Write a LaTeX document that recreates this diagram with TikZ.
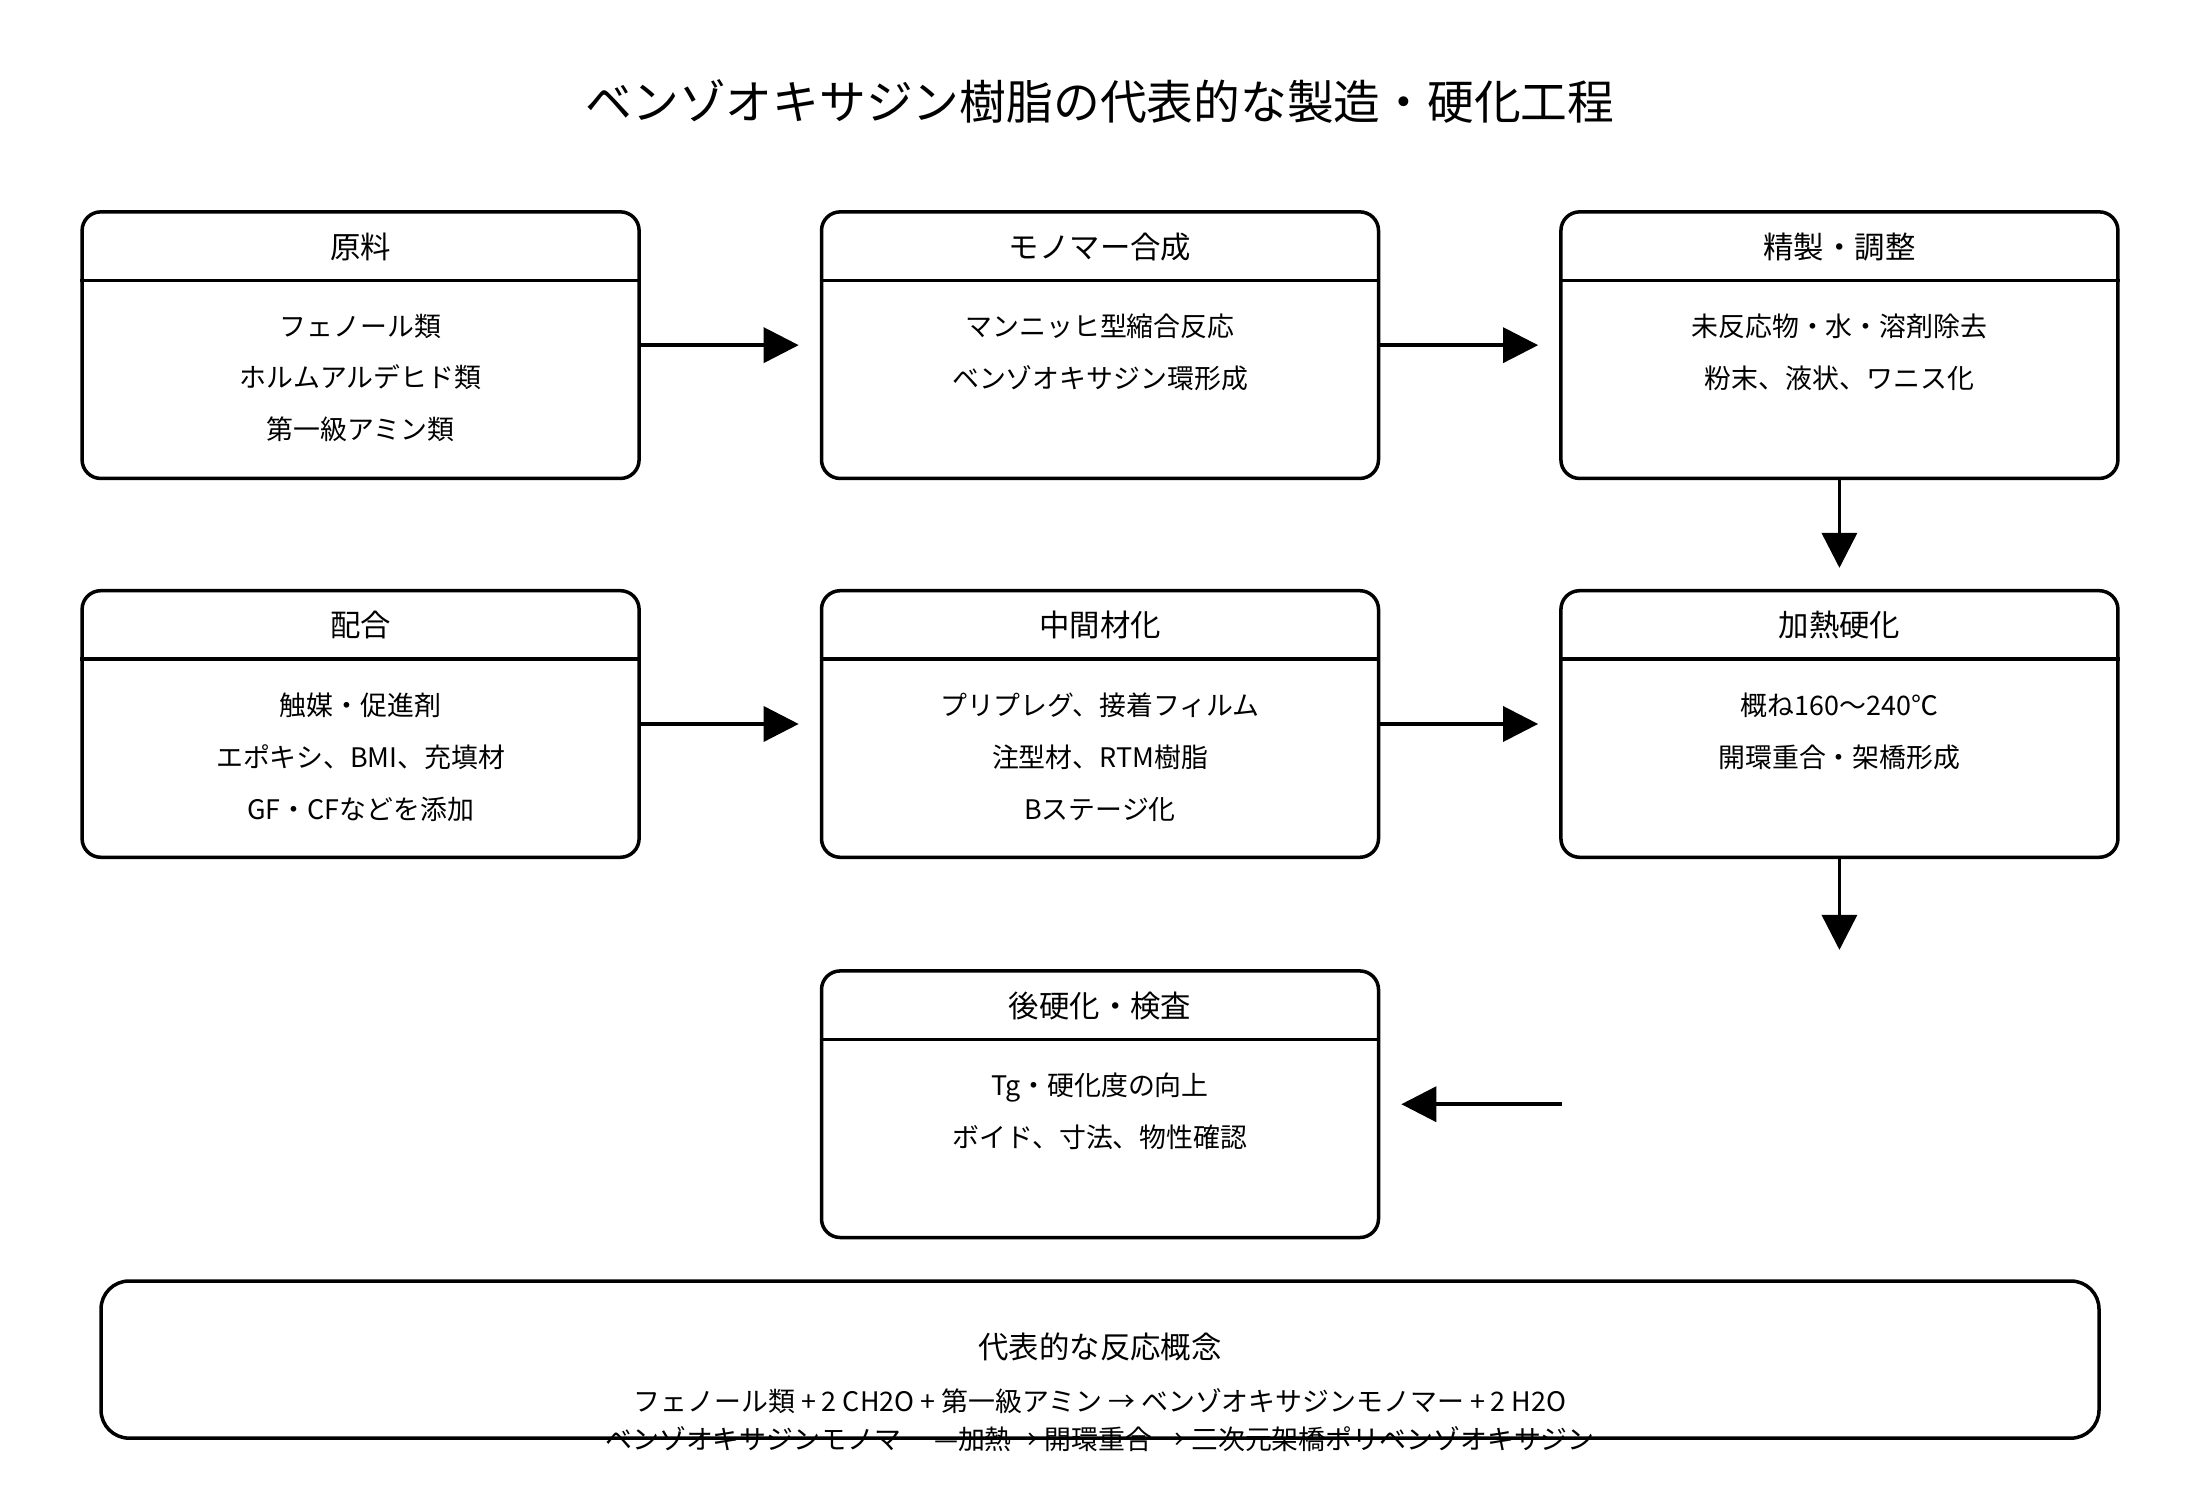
\documentclass[tikz,border=0pt]{standalone}
\usepackage{fontspec}
\setmainfont{Noto Sans CJK JP}
\usetikzlibrary{arrows.meta, positioning, calc}

\tikzset{
  stage/.style={draw, line width=1.5pt, rounded corners=8pt, minimum width=397*0.6pt, minimum height=190*0.6pt},
  head/.style={font=\fontsize{13}{15}\selectfont},
  body/.style={align=center, font=\fontsize{11.5}{22.2}\selectfont},
  flow/.style={line width=1.5pt, -{Triangle[length=15pt,width=15pt]}, shorten >=9pt},
}

\begin{document}
\begin{tikzpicture}[x=0.6pt, y=-0.6pt]
\useasboundingbox (0,0) rectangle (1568,1069);

% title
\node [font=\fontsize{20}{24}\selectfont] (title) at (784,72) {ベンゾオキサジン樹脂の代表的な製造・硬化工程};

% first row
\node [stage] (raw) at (257,246) {};
\node [stage] (mono) at (784,246) {};
\node [stage] (refine) at (1311,246) {};
% second row
\node [stage] (mix) at (257,516) {};
\node [stage] (inter) at (784,516) {};
\node [stage] (cure) at (1311,516) {};
% third row
\node [stage] (post) at (784,787) {};

% header lines
\foreach \n in {raw, mono, refine, mix, inter, cure, post}
  \draw [line width=1.5pt] ($(\n.north west)+(0,50)$) -- ($(\n.north east)+(0,50)$);

% headers
\node [head] (rawh)    at ($(raw.north)+(0,26)$)    {原料};
\node [head] (monoh)   at ($(mono.north)+(0,26)$)   {モノマー合成};
\node [head] (refineh) at ($(refine.north)+(0,26)$) {精製・調整};
\node [head] (mixh)    at ($(mix.north)+(0,26)$)    {配合};
\node [head] (interh)  at ($(inter.north)+(0,26)$)  {中間材化};
\node [head] (cureh)   at ($(cure.north)+(0,26)$)   {加熱硬化};
\node [head] (posth)   at ($(post.north)+(0,26)$)   {後硬化・検査};

% bodies
\node [body, anchor=north] (rawb)    at ($(raw.north)+(0,68)$)    {フェノール類\\ホルムアルデヒド類\\第一級アミン類};
\node [body, anchor=north] (monob)   at ($(mono.north)+(0,68)$)   {マンニッヒ型縮合反応\\ベンゾオキサジン環形成};
\node [body, anchor=north] (refineb) at ($(refine.north)+(0,68)$) {未反応物・水・溶剤除去\\粉末、液状、ワニス化};
\node [body, anchor=north] (mixb)    at ($(mix.north)+(0,68)$)    {触媒・促進剤\\エポキシ、BMI、充填材\\GF・CFなどを添加};
\node [body, anchor=north] (interb)  at ($(inter.north)+(0,68)$)  {プリプレグ、接着フィルム\\注型材、RTM樹脂\\Bステージ化};
\node [body, anchor=north] (cureb)   at ($(cure.north)+(0,68)$)   {概ね160〜240℃\\開環重合・架橋形成};
\node [body, anchor=north] (postb)   at ($(post.north)+(0,68)$)   {Tg・硬化度の向上\\ボイド、寸法、物性確認};

% connectors
\coordinate (down) at (1311,677);
\coordinate (back) at (1113,787);
\draw [flow] (raw) -- (mono);
\draw [flow] (mono) -- (refine);
\draw [flow] (refine) -- (cure);
\draw [flow] (mix) -- (inter);
\draw [flow] (inter) -- (cure);
\draw [flow, shorten >=0pt] (cure) -- (down);
\draw [flow] (back) -- (post);

% reaction summary
\node [draw, line width=1.5pt, rounded corners=12pt, minimum width=1424*0.6pt, minimum height=112*0.6pt] (react) at (784,969) {};
\node [head] (reacth) at (784,960) {代表的な反応概念};
\node [body, anchor=north, font=\fontsize{11.5}{16.2}\selectfont] (reactb) at (784,984)
  {フェノール類 + 2 CH2O + 第一級アミン → ベンゾオキサジンモノマー + 2 H2O\\
   ベンゾオキサジンモノマー —加熱→ 開環重合 → 三次元架橋ポリベンゾオキサジン};

\end{tikzpicture}
\end{document}
